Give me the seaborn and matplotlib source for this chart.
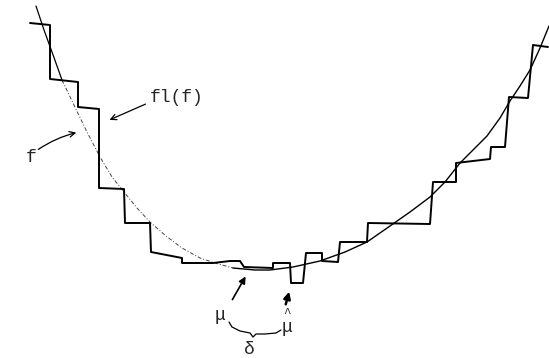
import seaborn as sns
import pandas as pd
import matplotlib.pyplot as plt

# smooth function f (pixel coordinates, y downwards)
curve_x = [36, 44, 52, 62, 73, 86, 100, 112, 124, 137, 150, 166, 182, 200, 215,
           233, 255, 270, 293, 320, 345, 367, 390, 410, 430, 445, 460, 475, 487,
           500, 510, 520, 530, 540, 549]
curve_y = [6, 30, 52, 80, 103, 130, 157, 177, 192, 208, 222, 236, 248, 258, 263,
           268, 270, 270, 267, 261, 252, 242, 226, 212, 197, 182, 163, 148, 136,
           118, 101, 86, 70, 48, 26]

# rounded version fl(f): staircase
step_x = [30, 50, 50, 78, 78, 99, 99, 124, 125, 150, 151, 182, 182, 213, 230, 240,
          244, 273, 273, 290, 291, 303, 306, 322, 322, 338, 340, 367, 368, 430,
          433, 456, 456, 490, 491, 505, 509, 528, 533, 548]
step_y = [23, 25, 79, 82, 107, 109, 188, 189, 223, 223, 252, 258, 263, 263, 261, 261,
          267, 268, 263, 263, 283, 283, 253, 253, 261, 262, 242, 242, 223, 224,
          182, 182, 163, 159, 147, 147, 97, 98, 45, 47]

labels = ["fl(f)", "f", "μ", "μ", "^", "δ"]
label_x = [177, 31, 220, 287, 287, 249]
label_y = [98, 158, 316, 327, 314, 350]
label_size = [13, 13, 13, 13, 9, 13]

curve = pd.DataFrame({"x": curve_x, "y": curve_y})
step = pd.DataFrame({"x": step_x, "y": step_y})

sns.set_style("white")
fig = plt.figure(figsize=(5.49, 3.58), dpi=100)
ax = fig.add_axes([0, 0, 1, 1])

# left part of f is drawn faint/dashed in the original, the rest solid
sns.lineplot(x="x", y="y", data=curve.iloc[:4], sort=False, estimator=None,
             color="black", lw=0.9, ax=ax)
sns.lineplot(x="x", y="y", data=curve.iloc[3:16], sort=False, estimator=None,
             color="#444444", lw=0.7, ls=(0, (4, 2, 1, 2)), ax=ax)
sns.lineplot(x="x", y="y", data=curve.iloc[15:], sort=False, estimator=None,
             color="black", lw=1.0, ax=ax)
sns.lineplot(x="x", y="y", data=step, sort=False, estimator=None,
             color="black", lw=1.4, ax=ax)

font = ["Liberation Mono", "DejaVu Sans Mono"]
for s, x, y, fs in zip(labels, label_x, label_y, label_size):
    ax.text(x, y, s, ha="center", va="center", fontsize=fs, family=font)

# arrows
ax.annotate("", xy=(107, 121), xytext=(148, 103),
            arrowprops=dict(arrowstyle="->", color="black", lw=0.9))
ax.annotate("", xy=(79, 132), xytext=(36, 151),
            arrowprops=dict(arrowstyle="->", color="black", lw=0.9,
                            connectionstyle="arc3,rad=-0.1"))
ax.annotate("", xy=(247, 274), xytext=(231, 302),
            arrowprops=dict(arrowstyle="-|>", color="black", lw=1.2))
ax.annotate("", xy=(290, 289), xytext=(285, 307),
            arrowprops=dict(arrowstyle="-|>", color="black", lw=1.8))

# brace between mu and mu-hat
brace_x = [229, 232, 240, 250, 253, 256, 265, 276, 281]
brace_y = [322, 327, 331, 333, 337, 334, 334, 333, 330]
ax.plot(brace_x, brace_y, color="black", lw=0.9)

ax.set_xlim(0, 549)
ax.set_ylim(358, 0)
ax.set_axis_off()
fig.savefig("out.png", dpi=100)
